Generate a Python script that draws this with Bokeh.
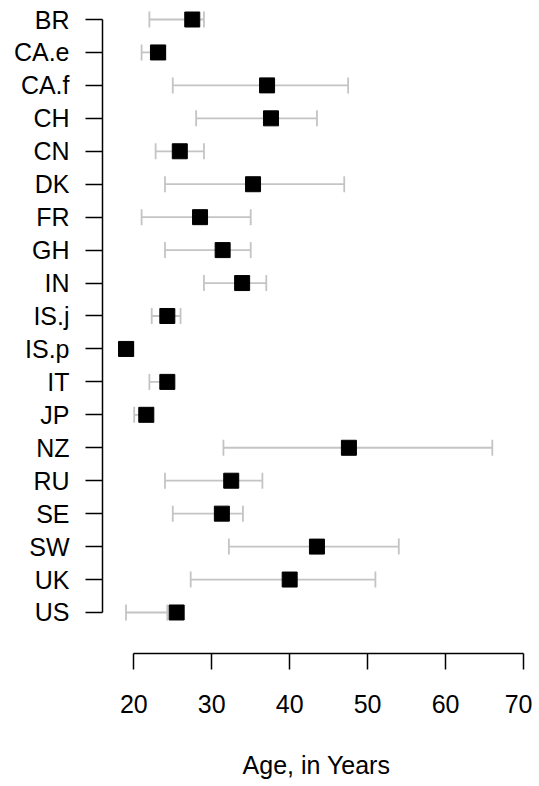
from bokeh.plotting import figure
from bokeh.models import ColumnDataSource, Whisker, TeeHead, FixedTicker, Range1d
from bokeh.embed import file_html
from bokeh.resources import INLINE

categories = ["BR", "CA.e", "CA.f", "CH", "CN", "DK", "FR", "GH", "IN", "IS.j",
              "IS.p", "IT", "JP", "NZ", "RU", "SE", "SW", "UK", "US"]
ages = [27.5, 23.1, 37.1, 37.6, 25.9, 35.3, 28.5, 31.4, 33.9, 24.3,
        19.0, 24.3, 21.6, 47.6, 32.5, 31.3, 43.5, 40.0, 25.5]
lower = [22.0, 21.0, 25.0, 28.0, 22.8, 24.0, 21.0, 24.0, 29.0, 22.3,
         18.5, 22.0, 20.05, 31.5, 24.0, 25.0, 32.2, 27.3, 19.0]
upper = [29.0, 24.1, 47.5, 43.5, 29.0, 47.0, 35.0, 35.0, 37.0, 26.0,
         20.0, 24.2, 22.5, 66.0, 36.5, 34.0, 54.0, 51.0, 24.3]
x_ticks = [20, 30, 40, 50, 60, 70]

n = len(categories)
ypos = [n - i for i in range(n)]

src = ColumnDataSource(dict(cat=categories, y=ypos, age=ages, lower=lower, upper=upper))

FONT = "Liberation Sans"

p = figure(width=532, height=782, output_backend="svg", toolbar_location=None,
           x_range=Range1d(15.984, 70.9), y_range=Range1d(-0.245, 19.334),
           min_border_left=102, min_border_right=2, min_border_top=8, min_border_bottom=129)
p.outline_line_color = None
p.xgrid.grid_line_color = None
p.ygrid.grid_line_color = None

gray = "#c4c4c4"
wh = Whisker(base="y", lower="lower", upper="upper", dimension="width", source=src,
             line_color=gray, line_width=1.8,
             upper_head=TeeHead(size=16, line_color=gray, line_width=1.8),
             lower_head=TeeHead(size=16, line_color=gray, line_width=1.8))
p.add_layout(wh)

p.scatter("age", "y", source=src, marker="square", size=15, fill_color="black",
          line_color="black")

xa = p.xaxis[0]
xa.ticker = FixedTicker(ticks=x_ticks)
xa.bounds = (x_ticks[0], x_ticks[-1])
xa.axis_label = "Age, in Years"
xa.axis_label_text_font = FONT
xa.axis_label_text_font_size = "25px"
xa.axis_label_text_font_style = "normal"
xa.axis_label_text_color = "black"
xa.axis_label_standoff = 35
xa.major_label_text_font = FONT
xa.major_label_text_font_size = "25px"
xa.major_label_text_color = "black"
xa.major_label_standoff = 25
xa.major_tick_out = 16
xa.major_tick_in = 0
xa.minor_tick_line_color = None
xa.axis_line_width = 1.5
xa.major_tick_line_width = 1.5
xa.axis_line_color = "black"
xa.major_tick_line_color = "black"

ya = p.yaxis[0]
ya.ticker = FixedTicker(ticks=ypos)
ya.bounds = (min(ypos), max(ypos))
ya.major_label_overrides = {y: c for y, c in zip(ypos, categories)}
ya.major_label_text_font = FONT
ya.major_label_text_font_size = "25px"
ya.major_label_text_color = "black"
ya.major_label_standoff = 16
ya.major_tick_out = 17
ya.major_tick_in = 0
ya.minor_tick_line_color = None
ya.axis_line_width = 1.5
ya.major_tick_line_width = 1.5
ya.axis_line_color = "black"
ya.major_tick_line_color = "black"

open("out.html", "w").write(file_html(p, INLINE))
